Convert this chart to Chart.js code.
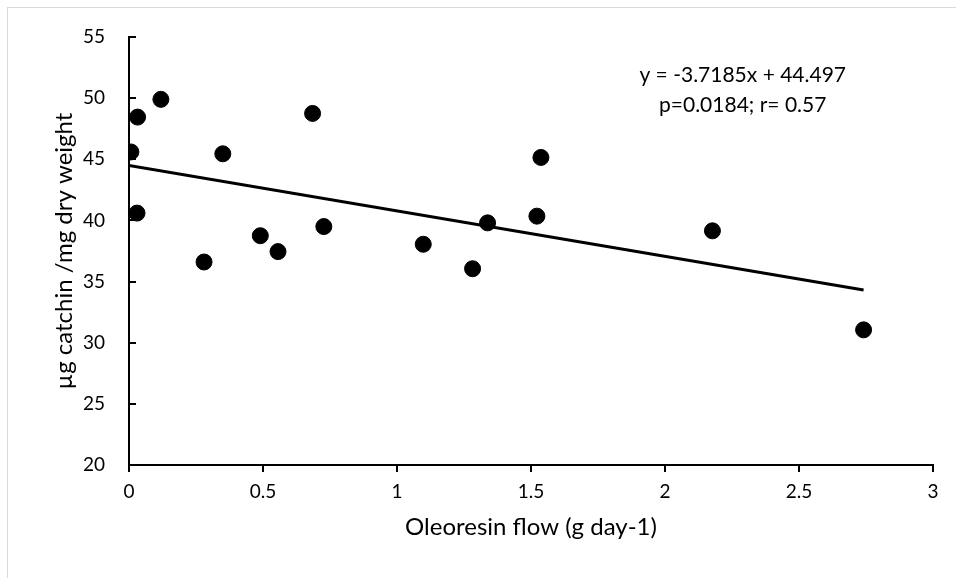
<!DOCTYPE html>
<html>
<head>
<meta charset="utf-8">
<script src="https://cdn.jsdelivr.net/npm/chart.js@4.4.1/dist/chart.umd.min.js"></script>
<style>
  html, body { margin: 0; padding: 0; background: #fff; overflow: hidden; }
  #wrap { position: relative; width: 956px; height: 578px; }
  #frame { position: absolute; left: 7px; top: 7px; width: 1200px; height: 900px; border: 1px solid #d9d9d9; }
  canvas { position: absolute; left: 0; top: 0; }
</style>
</head>
<body>
<div id="wrap">
  <div id="frame"></div>
  <canvas id="scatterChart" width="956" height="578"></canvas>
</div>
<script>
// oleoresin flow (g day-1) vs catechin content
var flow = [0.007, 0.032, 0.03, 0.119, 0.28, 0.35, 0.49, 0.556, 0.685, 0.727, 1.098, 1.282, 1.338, 1.522, 1.537, 2.177, 2.741];
var catechin = [45.6, 48.45, 40.6, 49.9, 36.6, 45.45, 38.75, 37.45, 48.75, 39.5, 38.05, 36.05, 39.8, 40.35, 45.15, 39.15, 31.05];

// fitted line as printed on the chart
var slope = -3.7185;
var intercept = 44.497;
var equationLines = ['y = -3.7185x + 44.497', 'p=0.0184; r= 0.57'];

var xTicks = [0, 0.5, 1, 1.5, 2, 2.5, 3];
var yTicks = [20, 25, 30, 35, 40, 45, 50, 55];

var FONT = 'Lato';

var points = flow.map(function (x, i) { return { x: x, y: catechin[i] }; });
var xMax = Math.max.apply(null, flow);
var trend = [
    { x: 0, y: intercept + slope * 0 },
    { x: xMax, y: intercept + slope * xMax }
];

var equationLabel = {
    id: 'equationLabel',
    afterDraw: function (chart) {
        var ctx = chart.ctx;
        var cx = chart.scales.x.getPixelForValue(2.29);
        var cy = chart.scales.y.getPixelForValue(51.9);
        ctx.save();
        ctx.fillStyle = '#000';
        ctx.font = '21px ' + FONT;
        ctx.textAlign = 'center';
        ctx.textBaseline = 'middle';
        equationLines.forEach(function (t, i) {
            ctx.fillText(t, cx, cy + i * 30);
        });
        ctx.restore();
    }
};

function noEdgePadding(s) {
    s.paddingTop = 0;
    s.paddingBottom = 0;
    s.paddingLeft = 0;
    s.paddingRight = 0;
}

new Chart(document.getElementById('scatterChart'), {
    type: 'scatter',
    data: {
        datasets: [{
            label: 'samples',
            data: points,
            backgroundColor: '#000',
            borderColor: '#000',
            pointRadius: 8,
            pointHoverRadius: 8
        }, {
            type: 'line',
            label: 'trend',
            data: trend,
            borderColor: '#000',
            borderWidth: 3,
            pointRadius: 0,
            fill: false
        }]
    },
    options: {
        responsive: false,
        animation: false,
        layout: { autoPadding: false, padding: { top: 37, right: 23, left: 0, bottom: 0 } },
        plugins: {
            legend: { display: false },
            tooltip: { enabled: false }
        },
        scales: {
            x: {
                type: 'linear',
                min: 0,
                max: 3,
                afterBuildTicks: function (s) { s.ticks = xTicks.map(function (v) { return { value: v }; }); },
                afterFit: function (s) { s.height = 113; noEdgePadding(s); },
                ticks: {
                    color: '#000', padding: 8, maxRotation: 0,
                    font: { family: FONT, size: 19 },
                    callback: function (v) { return String(v); }
                },
                grid: { drawOnChartArea: false, color: '#000', lineWidth: 2, tickLength: 7 },
                border: { color: '#000', width: 2 },
                title: {
                    display: true,
                    text: 'Oleoresin flow (g day-1)',
                    color: '#000',
                    font: { family: FONT, size: 24 },
                    padding: { top: 0, bottom: 36 }
                }
            },
            y: {
                min: 20,
                max: 55,
                afterBuildTicks: function (s) { s.ticks = yTicks.map(function (v) { return { value: v }; }); },
                afterFit: function (s) { s.width = 129; noEdgePadding(s); },
                ticks: { color: '#000', padding: 31, font: { family: FONT, size: 19 } },
                grid: { drawOnChartArea: false, color: '#000', lineWidth: 2, tickLength: -7 },
                border: { color: '#000', width: 2 },
                title: {
                    display: true,
                    text: 'µg catchin /mg dry weight',
                    color: '#000',
                    font: { family: FONT, size: 24 },
                    padding: { top: 50, bottom: 0 }
                }
            }
        }
    },
    plugins: [equationLabel]
});
</script>
</body>
</html>
